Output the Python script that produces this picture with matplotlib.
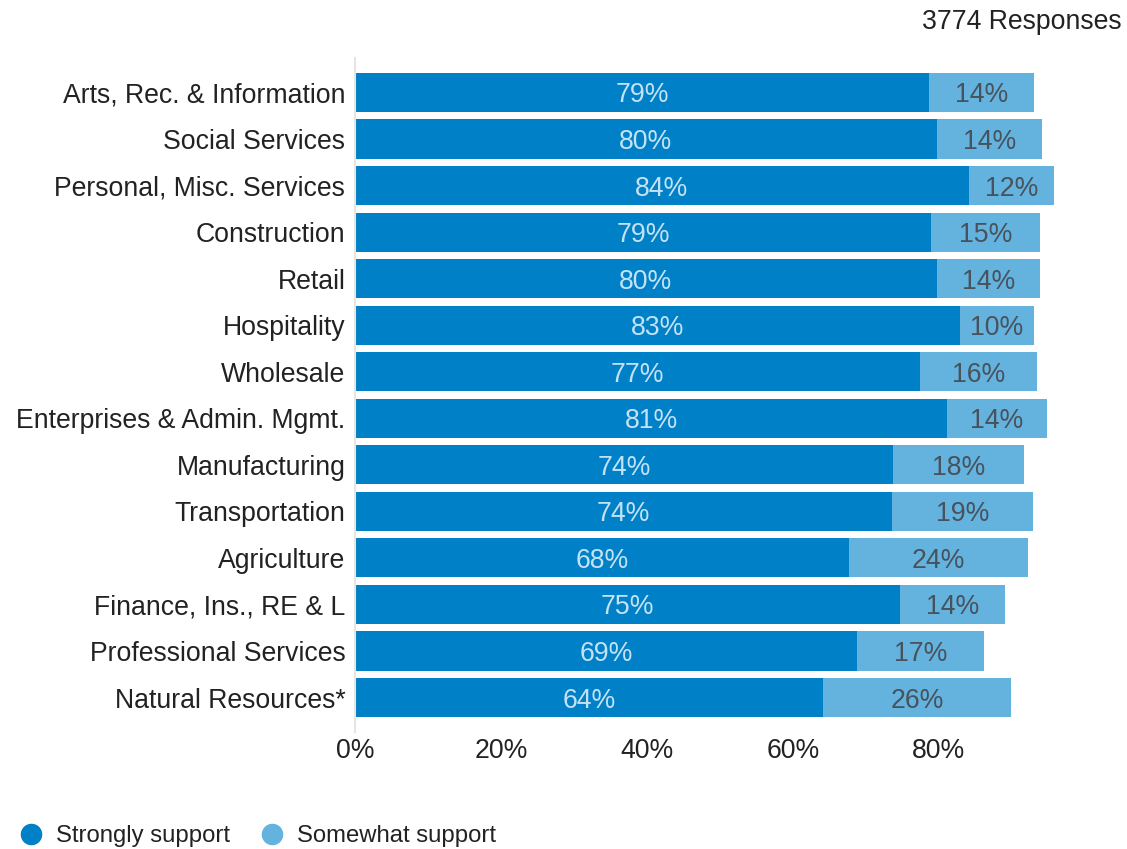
import matplotlib
matplotlib.use("Agg")
import matplotlib.pyplot as plt
from matplotlib.lines import Line2D

plt.rcParams["font.family"] = ["Liberation Sans", "DejaVu Sans"]

INDUSTRIES = [
    "Arts, Rec. & Information", "Social Services", "Personal, Misc. Services",
    "Construction", "Retail", "Hospitality", "Wholesale",
    "Enterprises & Admin. Mgmt.", "Manufacturing", "Transportation",
    "Agriculture", "Finance, Ins., RE & L", "Professional Services",
    "Natural Resources*",
]
STRONGLY = [78.6, 79.7, 84.1, 78.9, 79.7, 82.9, 77.4, 81.1, 73.7, 73.6, 67.7, 74.7, 68.8, 64.1]
SOMEWHAT = [14.4, 14.4, 11.6, 14.9, 14.2, 10.1, 16.0, 13.7, 17.9, 19.3, 24.5, 14.4, 17.4, 25.8]
XTICKS = [0, 20, 40, 60, 80]

C_STRONG = "#0080c6"
C_SOME = "#64b3df"
FS = 19.2

fig = plt.figure(figsize=(11.27, 8.49), dpi=100)
ax = fig.add_axes([355 / 1127, 1 - 732 / 849, 700 / 1127, 674 / 849])

ys = list(range(len(INDUSTRIES)))
ax.barh(ys, STRONGLY, height=0.84, color=C_STRONG)
ax.barh(ys, SOMEWHAT, left=STRONGLY, height=0.84, color=C_SOME)

for y, s, w in zip(ys, STRONGLY, SOMEWHAT):
    ax.text(s / 2, y, f"{round(s)}%", ha="center", va="center_baseline",
            fontsize=FS, color="#c4e2f5")
    ax.text(s + w / 2, y, f"{round(w)}%", ha="center", va="center_baseline",
            fontsize=FS, color="#48525c")

ax.set_ylim(len(INDUSTRIES) - 0.26, -0.74)
ax.set_xlim(0, 700 / 7.3)
ax.set_yticks(ys)
ax.set_yticklabels(INDUSTRIES, fontsize=FS, color="#222222", va="center_baseline")
ax.set_xticks(XTICKS)
ax.set_xticklabels([f"{t}%" for t in XTICKS], fontsize=FS, color="#222222")
ax.tick_params(axis="y", length=0, pad=7)
ax.tick_params(axis="x", length=0, pad=4)
for side in ("top", "right", "bottom"):
    ax.spines[side].set_visible(False)
ax.spines["left"].set_color("#e6e6e6")
ax.spines["left"].set_linewidth(1.5)

fig.text(1122 / 1127, 1 - 19 / 849, "3774 Responses", ha="right", va="center_baseline",
         fontsize=FS, color="#222222")

handles = [
    Line2D([], [], marker="o", ls="", markersize=14.5, color=C_STRONG, label="Strongly support"),
    Line2D([], [], marker="o", ls="", markersize=14.5, color=C_SOME, label="Somewhat support"),
]
fig.legend(handles=handles, loc="center left", bbox_to_anchor=(-14 / 1127, 1 - 836 / 849),
           ncol=2, frameon=False, fontsize=17.2, handletextpad=0.05, columnspacing=0.75,
           labelcolor="#222222")

fig.savefig("out.png", dpi=100)
